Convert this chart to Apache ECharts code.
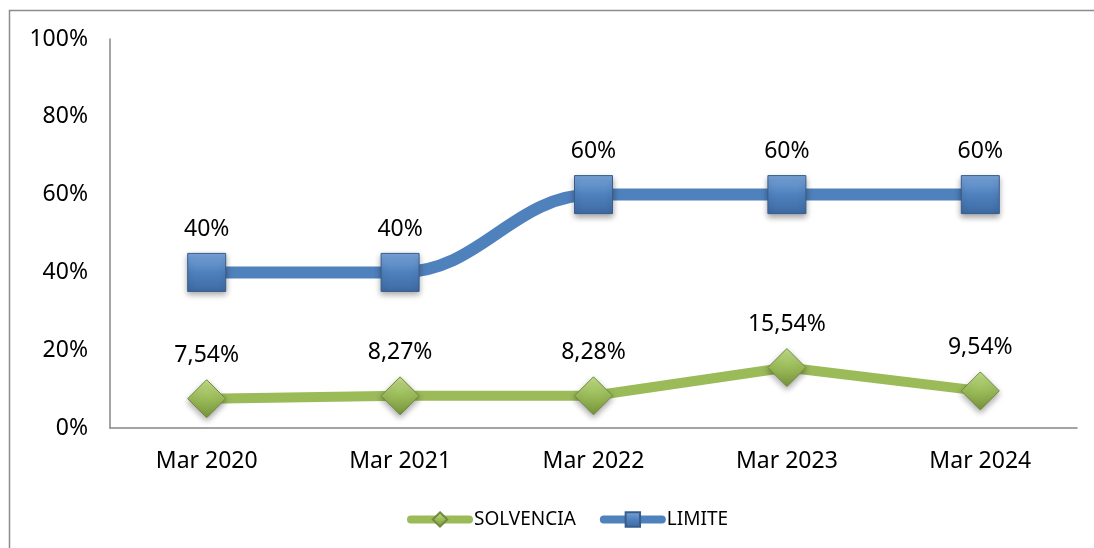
<!DOCTYPE html>
<html>
<head>
<meta charset="utf-8">
<script src="https://cdn.jsdelivr.net/npm/echarts@6/dist/echarts.min.js"></script>
<style>
  html, body { margin: 0; padding: 0; background: #fff; }
  #chart { width: 1094px; height: 548px; }
</style>
</head>
<body>
<div id="chart"></div>
<script>
// solvencia vs limite

const categories = ['Mar 2020', 'Mar 2021', 'Mar 2022', 'Mar 2023', 'Mar 2024'];
const solvencia = [7.54, 8.27, 8.28, 15.54, 9.54];
const limite = [40, 40, 60, 60, 60];
const yTicks = [0, 20, 40, 60, 80, 100];

const fontFam = "'Noto Sans', 'Open Sans', sans-serif";

function pct(v, dec) {
    return v.toFixed(dec).replace('.', ',') + '%';
}

const chartDom = document.getElementById('chart');
let chart = echarts.init(chartDom);

let option = {
    animation: false,
    textStyle: { fontFamily: fontFam },
    graphic: [
        {
            type: 'rect',
            shape: { x: 9.5, y: 10.5, width: 1100, height: 600 },
            style: { fill: 'none', stroke: '#8c8c8c', lineWidth: 1.5 },
            silent: true,
            z: -1
        }
    ],
    legend: {
        left: 402,
        top: 505,
        itemWidth: 58,
        itemHeight: 18,
        itemGap: 24,
        lineStyle: { width: 8, cap: 'round' },
        textStyle: { fontSize: 19, color: '#000', fontFamily: fontFam },
        data: ['SOLVENCIA', 'LIMITE']
    },
    grid: {
        left: 110,
        right: 17,
        top: 39,
        bottom: 120
    },
    xAxis: {
        type: 'category',
        data: categories,
        axisLine: { lineStyle: { color: '#868686', width: 1.5 } },
        axisTick: { show: false },
        axisLabel: { color: '#000', fontSize: 23, margin: 22 }
    },
    yAxis: {
        type: 'value',
        min: yTicks[0],
        max: yTicks[yTicks.length - 1],
        interval: 20,
        axisLine: { show: true, lineStyle: { color: '#868686', width: 1.5 } },
        axisTick: { show: false },
        splitLine: { show: false },
        axisLabel: {
            color: '#000',
            fontSize: 23,
            margin: 22,
            formatter: '{value}%'
        }
    },
    series: [
        {
            name: 'SOLVENCIA',
            type: 'line',
            data: solvencia,
            symbol: 'diamond',
            symbolSize: 38,
            lineStyle: { color: '#9bbb59', width: 10, cap: 'round' },
            itemStyle: {
                color: {
                    type: 'linear', x: 0, y: 0, x2: 0, y2: 1,
                    colorStops: [
                        { offset: 0, color: '#c3e08a' },
                        { offset: 0.5, color: '#9bbb59' },
                        { offset: 1, color: '#76933c' }
                    ]
                },
                borderColor: '#71893f',
                borderWidth: 1,
                shadowBlur: 6,
                shadowOffsetY: 3,
                shadowColor: 'rgba(0,0,0,0.35)'
            },
            label: {
                show: true,
                position: 'top',
                distance: 12,
                fontSize: 23,
                color: '#000',
                formatter: function (p) { return pct(p.value, 2); }
            },
            z: 3
        },
        {
            name: 'LIMITE',
            type: 'line',
            data: limite,
            smooth: 0.4,
            symbol: 'rect',
            symbolSize: 38,
            lineStyle: { color: '#4f81bd', width: 12, cap: 'round' },
            itemStyle: {
                color: {
                    type: 'linear', x: 0, y: 0, x2: 0, y2: 1,
                    colorStops: [
                        { offset: 0, color: '#7aa6dc' },
                        { offset: 0.5, color: '#4f81bd' },
                        { offset: 1, color: '#3d6aa3' }
                    ]
                },
                borderColor: '#385d8a',
                borderWidth: 1,
                shadowBlur: 6,
                shadowOffsetY: 3,
                shadowColor: 'rgba(0,0,0,0.35)'
            },
            label: {
                show: true,
                position: 'top',
                distance: 12,
                fontSize: 23,
                color: '#000',
                formatter: function (p) { return pct(p.value, 0); }
            },
            z: 3
        }
    ]
};

option && chart.setOption(option);
</script>
</body>
</html>
